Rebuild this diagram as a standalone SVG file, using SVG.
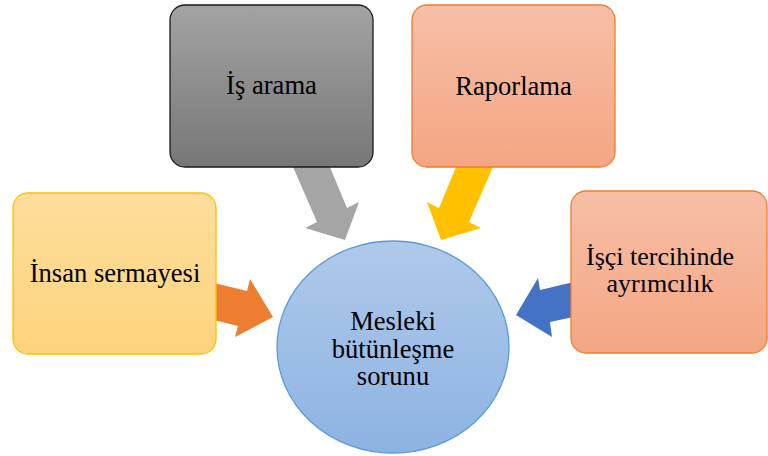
<svg xmlns="http://www.w3.org/2000/svg" width="768" height="456" viewBox="0 0 768 456">
  <defs>
    <linearGradient id="gGray" x1="0" y1="0" x2="0" y2="1">
      <stop offset="0" stop-color="#a3a3a3"/>
      <stop offset="1" stop-color="#777777"/>
    </linearGradient>
    <linearGradient id="gSalmon" x1="0" y1="0" x2="0" y2="1">
      <stop offset="0" stop-color="#f7bfa6"/>
      <stop offset="1" stop-color="#f4a683"/>
    </linearGradient>
    <linearGradient id="gGold" x1="0" y1="0" x2="0" y2="1">
      <stop offset="0" stop-color="#fedd9d"/>
      <stop offset="1" stop-color="#fdd47c"/>
    </linearGradient>
    <linearGradient id="gBlue" x1="0" y1="0" x2="0" y2="1">
      <stop offset="0" stop-color="#afc9ea"/>
      <stop offset="1" stop-color="#8db3e2"/>
    </linearGradient>
  </defs>
  <style>
    text { font-family: 'Liberation Serif', 'DejaVu Serif', serif; font-size: 26.6px; fill: #000; text-anchor: middle; }
    .tight { font-size: 26px; }
    .box { stroke-width: 1.3; }
  </style>

  <!-- block arrows pointing to the centre -->
  <g id="connectors">
    <polygon fill="#a5a5a5" points="290,160 317,222 305,228 345,240 359,202 347,208 327,160"/>
    <polygon fill="#ffc000" points="496,160 469,222 481,228 441,240 427,202 439,208 459,160"/>
    <polygon fill="#ed7d31" points="210,282 247,291 250,279 273,317 235,337 238,326 210,319"/>
    <polygon fill="#4472c4" points="578,281 540,290 538,278 516,315 552,337 550,322 578,316"/>
  </g>

  <g id="node-is-arama">
    <rect class="box" x="170" y="5" width="203" height="162" rx="15" fill="url(#gGray)" stroke="#1a1a1a"/>
    <text x="271.5" y="94">İş arama</text>
  </g>

  <g id="node-raporlama">
    <rect class="box" x="412" y="5" width="203" height="162" rx="15" fill="url(#gSalmon)" stroke="#ed7d31"/>
    <text x="513.5" y="95">Raporlama</text>
  </g>

  <g id="node-insan-sermayesi">
    <rect class="box" x="13" y="193" width="203" height="161" rx="15" fill="url(#gGold)" stroke="#ffc000"/>
    <text x="115" y="282">İnsan sermayesi</text>
  </g>

  <g id="node-isci-tercihinde">
    <rect class="box" x="571" y="191" width="196" height="162" rx="15" fill="url(#gSalmon)" stroke="#ed7d31"/>
    <text class="tight" x="660" y="265">İşçi tercihinde</text>
    <text class="tight" x="660" y="292">ayrımcılık</text>
  </g>

  <g id="node-mesleki">
    <ellipse cx="393" cy="347" rx="116" ry="106" fill="url(#gBlue)" stroke="#5b9bd5" stroke-width="1.3"/>
    <text x="393" y="330">Mesleki</text>
    <text x="393" y="357.5">bütünleşme</text>
    <text x="393" y="385">sorunu</text>
  </g>
</svg>
